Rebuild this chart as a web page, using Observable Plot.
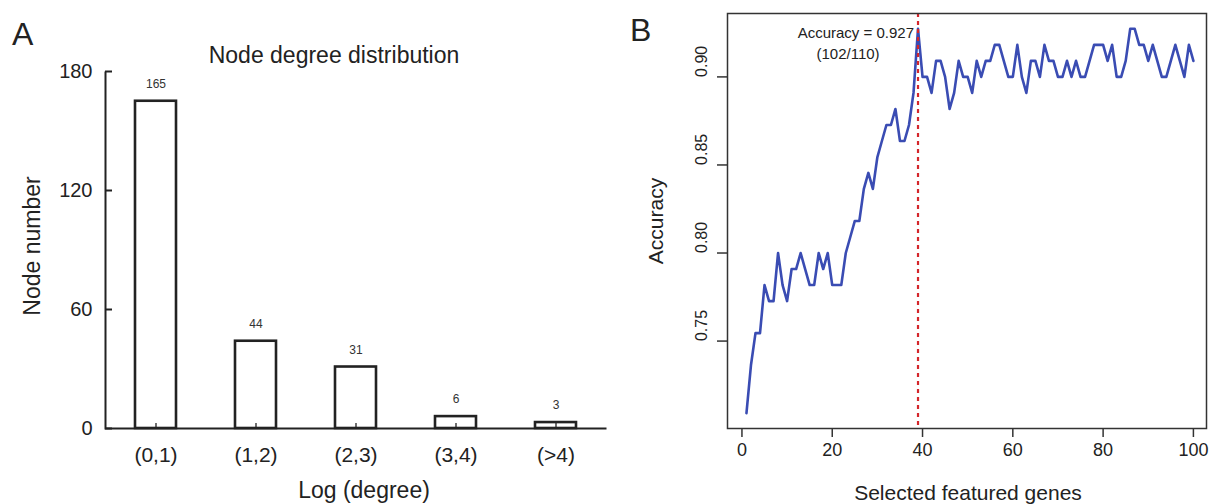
<!DOCTYPE html>
<html><head><meta charset="utf-8">
<script src="https://cdn.jsdelivr.net/npm/d3@7"></script>
<script src="https://cdn.jsdelivr.net/npm/@observablehq/plot@0.6"></script>
<style>
body{margin:0;background:#fff;}
#wrap{position:relative;width:1210px;height:504px;overflow:hidden;font-family:"Liberation Sans",Arial,sans-serif;color:#222;}
#wrap svg{position:absolute;top:0;}
.abs{position:absolute;white-space:nowrap;line-height:1;}
</style></head><body><div id="wrap"></div>
<script>
// ---- Panel A data ----
const degreeBins = ["(0,1)", "(1,2)", "(2,3)", "(3,4)", "(>4)"];
const nodeCounts = [165, 44, 31, 6, 3];
const countTicks = [0, 60, 120, 180];

// ---- Panel B data ----
const selectedGenes = d3.range(1, 101);
const accuracy = [
  0.7091,0.7364,0.7545,0.7545,0.7818,0.7727,0.7727,0.8000,0.7818,0.7727,
  0.7909,0.7909,0.8000,0.7909,0.7818,0.7818,0.8000,0.7909,0.8000,0.7818,
  0.7818,0.7818,0.8000,0.8091,0.8182,0.8182,0.8364,0.8455,0.8364,0.8545,
  0.8636,0.8727,0.8727,0.8818,0.8636,0.8636,0.8727,0.8909,0.9273,0.9000,
  0.9000,0.8909,0.9091,0.9091,0.9000,0.8818,0.8909,0.9091,0.9000,0.9000,
  0.8909,0.9091,0.9000,0.9091,0.9091,0.9182,0.9182,0.9091,0.9000,0.9000,
  0.9182,0.9000,0.8909,0.9091,0.9091,0.9000,0.9182,0.9091,0.9091,0.9000,
  0.9000,0.9091,0.9000,0.9091,0.9000,0.9000,0.9091,0.9182,0.9182,0.9182,
  0.9091,0.9182,0.9000,0.9000,0.9091,0.9273,0.9273,0.9182,0.9182,0.9091,
  0.9182,0.9091,0.9000,0.9000,0.9091,0.9182,0.9091,0.9000,0.9182,0.9091
];
const geneTicks = [0, 20, 40, 60, 80, 100];
const accTicks = [0.75, 0.80, 0.85, 0.90];
const peakGene = 39;
const peakCorrect = 102;
const totalSamples = 110;

const FONT = '"Liberation Sans", Arial, sans-serif';
const wrap = document.getElementById("wrap");

// ---- Panel A ----
const barData = degreeBins.map((b, i) => ({bin: b, count: nodeCounts[i]}));
const wA = 620, hA = 504, mlA = 105, mrA = 14, mtA = 71, mbA = 76;
const fw = wA - mlA - mrA, fh = hA - mtA - mbA;
const plotA = Plot.plot({
  width: wA, height: hA,
  marginLeft: mlA, marginRight: mrA, marginTop: mtA, marginBottom: mbA,
  style: {fontFamily: FONT, color: "#222", background: "transparent", overflow: "visible"},
  x: {domain: degreeBins, paddingInner: 0.592, paddingOuter: 0.289, label: null},
  y: {domain: [0, 180], label: null},
  marks: [
    Plot.barY(barData, {x: "bin", y: "count", fill: "white", stroke: "#222", strokeWidth: 2.6}),
    Plot.frame({stroke: "#222", strokeWidth: 2, strokeDasharray: `0,${fw + fh},${fw + fh}`}),
    Plot.axisX({tickSize: -5, tickFormat: () => "", stroke: "#222", strokeWidth: 1.3}),
    Plot.axisX({tickSize: 0, tickPadding: 19, fontSize: 21, label: null}),
    Plot.axisY({ticks: countTicks, tickSize: -7, tickFormat: () => "", stroke: "#222", strokeWidth: 2}),
    Plot.axisY({ticks: countTicks, tickSize: 0, tickPadding: 13, fontSize: 20, label: null}),
    Plot.text(barData, {x: "bin", y: "count", text: d => String(d.count), dy: -17, fontSize: 12, fill: "#333"})
  ]
});
plotA.style.left = "0px";
wrap.appendChild(plotA);

// ---- Panel B ----
const wB = 610, hB = 504;
const lineData = accuracy.map((a, i) => ({gene: selectedGenes[i], acc: a}));
const peak = [{gene: peakGene, acc: peakCorrect / totalSamples}];
const plotB = Plot.plot({
  width: wB, height: hB,
  marginLeft: 127, marginRight: 4, marginTop: 13, marginBottom: 76,
  style: {fontFamily: FONT, color: "#222", background: "transparent", overflow: "visible"},
  x: {domain: [-3.2, 102.9], label: null},
  y: {domain: [0.70036, 0.936], label: null},
  marks: [
    Plot.lineY(lineData, {x: "gene", y: "acc", stroke: "#3a4cb3", strokeWidth: 2.6}),
    Plot.ruleX(peak, {x: "gene", stroke: "#d4262b", strokeWidth: 2.2, strokeDasharray: "4,4"}),
    Plot.frame({stroke: "#333", strokeWidth: 1.5}),
    Plot.axisX({ticks: geneTicks, tickSize: 9, tickPadding: 6, fontSize: 18, stroke: "#333", strokeWidth: 1.5, label: null}),
    Plot.axisY({ticks: accTicks, tickSize: 10, tickFormat: () => "", stroke: "#333", strokeWidth: 1.5, label: null}),
    Plot.text(accTicks, {y: d => d, frameAnchor: "left", dx: -26, rotate: -90, text: d => d.toFixed(2), fontSize: 16, fill: "#222"}),
    Plot.text(peak, {x: "gene", frameAnchor: "top", dy: 14, dx: -4, textAnchor: "end",
      text: d => `Accuracy = ${d.acc.toFixed(3)}`, fontSize: 15, fill: "#222"}),
    Plot.text(peak, {x: "gene", frameAnchor: "top", dy: 35, dx: -70,
      text: () => `(${peakCorrect}/${totalSamples})`, fontSize: 15, fill: "#222"})
  ]
});
plotB.style.left = "600px";
wrap.appendChild(plotB);

// ---- Titles & labels ----
function label(txt, opts) {
  const d = document.createElement("div");
  d.className = "abs";
  d.textContent = txt;
  d.style.fontSize = opts.size + "px";
  d.style.left = opts.left + "px";
  d.style.top = opts.top + "px";
  if (opts.transform) d.style.transform = opts.transform;
  wrap.appendChild(d);
}
label("A", {size: 32, left: 12, top: 18});
label("B", {size: 32, left: 630, top: 14});
label("Node degree distribution", {size: 23, left: 334, top: 44, transform: "translateX(-50%)"});
label("Log (degree)", {size: 23, left: 364, top: 479, transform: "translateX(-50%)"});
label("Node number", {size: 23, left: 32, top: 246, transform: "translate(-50%,-50%) rotate(-90deg)"});
label("Selected featured genes", {size: 21, left: 968, top: 482, transform: "translateX(-50%)"});
label("Accuracy", {size: 21, left: 655, top: 221, transform: "translate(-50%,-50%) rotate(-90deg)"});
</script>
</body></html>
